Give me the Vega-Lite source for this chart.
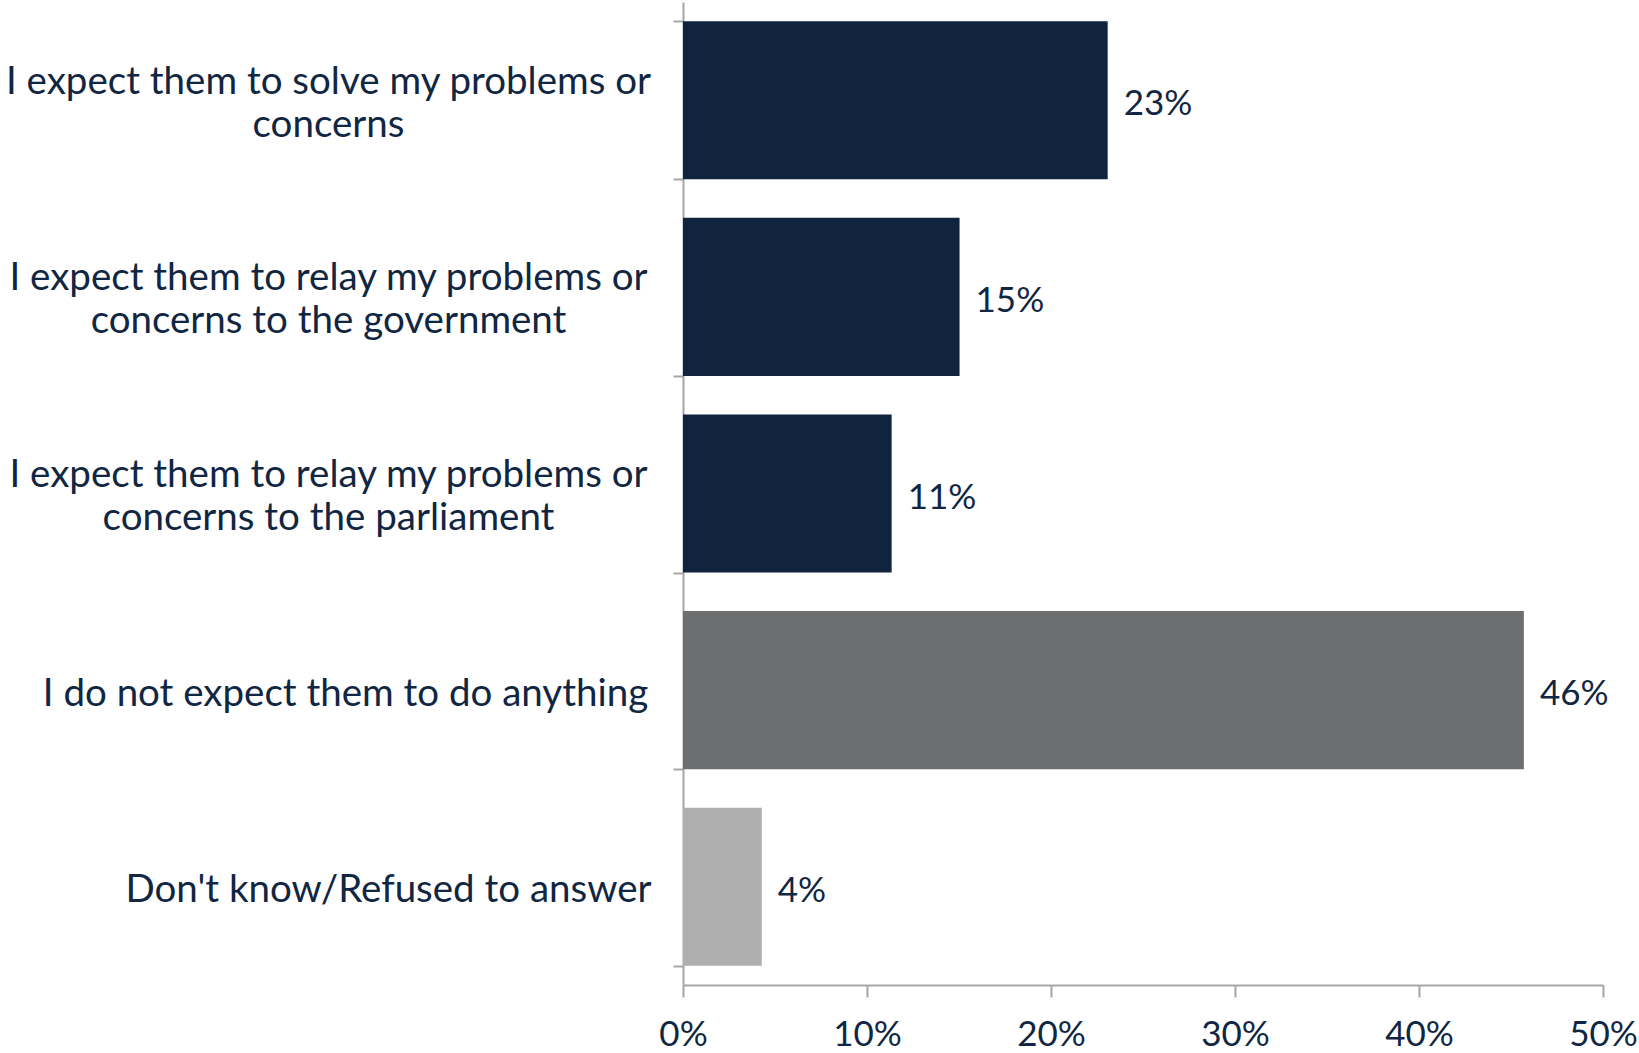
{
  "$schema": "https://vega.github.io/schema/vega-lite/v6.json",
  "width": 920,
  "height": 983,
  "autosize": {"type": "none"},
  "padding": {"left": 683, "top": 2, "right": 36, "bottom": 68},
  "background": "white",
  "config": {"view": {"stroke": null}, "font": "Lato"},
  "data": {"values": [
    {"category": "I expect them to solve my problems or\nconcerns", "value": 0.2308, "group": "expect"},
    {"category": "I expect them to relay my problems or\nconcerns to the government", "value": 0.1503, "group": "expect"},
    {"category": "I expect them to relay my problems or\nconcerns to the parliament", "value": 0.1134, "group": "expect"},
    {"category": "I do not expect them to do anything", "value": 0.457, "group": "nothing"},
    {"category": "Don't know/Refused to answer", "value": 0.0428, "group": "dk"}
  ]},
  "encoding": {
    "y": {
      "field": "category", "type": "nominal", "sort": null, "title": null,
      "scale": {"paddingInner": 0.196, "paddingOuter": 0.098},
      "axis": {
        "labelExpr": "isValid(datum.value) ? split(datum.value, '\\n') : ''",
        "labelAlign": "center",
        "labelBaseline": "middle",
        "labelPadding": {"condition": [
          {"test": "isValid(datum.value) && indexof(datum.value, 'anything') >= 0", "value": 328},
          {"test": "isValid(datum.value) && indexof(datum.value, 'Refused') >= 0", "value": 285}
        ], "value": 345},
        "labelOffset": {"condition": {"test": "isValid(datum.value) && indexof(datum.value, '\\n') >= 0", "value": -19}, "value": 3},
        "labelFont": "Lato", "labelFontSize": 38.5, "labelLineHeight": 43,
        "labelColor": "#112642", "labelLimit": 1000,
        "tickBand": "extent", "tickSize": 10, "tickColor": "#A6A6A6", "tickWidth": 2,
        "domainColor": "#A6A6A6", "domainWidth": 2
      }
    },
    "x": {
      "field": "value", "type": "quantitative", "title": null,
      "scale": {"domain": [0, 0.5], "nice": false},
      "axis": {
        "format": ".0%", "values": [0, 0.1, 0.2, 0.3, 0.4, 0.5], "grid": false,
        "labelFont": "Lato", "labelFontSize": 35, "labelColor": "#112642",
        "labelBaseline": "top", "labelPadding": 20, "labelFlush": false,
        "tickSize": 12, "tickColor": "#A6A6A6", "tickWidth": 2,
        "domainColor": "#A6A6A6", "domainWidth": 2
      }
    }
  },
  "layer": [
    {
      "mark": {"type": "bar"},
      "encoding": {
        "color": {"field": "group", "type": "nominal", "legend": null,
          "scale": {"domain": ["expect", "nothing", "dk"], "range": ["#10233F", "#6D6E70", "#AEAEAF"]}}
      }
    },
    {
      "mark": {"type": "text", "align": "left", "baseline": "middle", "dx": 16, "dy": 4, "font": "Lato", "fontSize": 35, "color": "#112642"},
      "encoding": {"text": {"field": "value", "type": "quantitative", "format": ".0%"}}
    }
  ]
}
